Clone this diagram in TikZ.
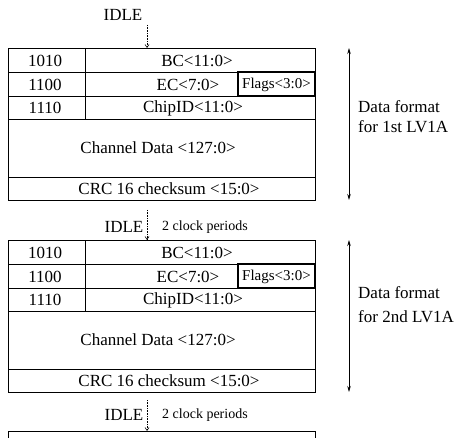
\documentclass[tikz,border=0pt]{standalone}
\usepackage{fontspec}
\setmainfont{Liberation Serif}
\usetikzlibrary{arrows.meta}
\begin{document}
\begin{tikzpicture}[x=1pt,y=-1pt,
  lbl/.style={font=\fontsize{17}{20}\selectfont, inner sep=0pt, anchor=center},
  small/.style={font=\fontsize{14}{16}\selectfont, inner sep=0pt},
  flagtxt/.style={font=\fontsize{15}{17}\selectfont, inner sep=0pt},
  frameline/.style={line width=0.8pt},
  boldline/.style={line width=1.3pt},
  idle/.style={densely dotted, line width=0.6pt, -{Straight Barb[length=3pt,width=4pt]}},
  span/.style={line width=0.7pt, {Stealth[length=6pt,width=3.5pt]}-{Stealth[length=6pt,width=3.5pt]}}]
\useasboundingbox (0,0) rectangle (457,438);

\foreach \t/\p in {48/a,240/b}{
  \draw[frameline] (8,\t) rectangle (315,\t+152);
  \draw[frameline] (8,\t+24) -- (315,\t+24);
  \draw[frameline] (8,\t+48) -- (315,\t+48);
  \draw[boldline] (8,\t+71.5) -- (315,\t+71.5);
  \draw[frameline] (8,\t+129) -- (315,\t+129);
  \draw[frameline] (85,\t) -- (85,\t+71.5);
  \draw[boldline] (238,\t+24) rectangle (315,\t+48);
  \node[lbl] (\p-h1) at (45,\t+12.5) {1010};
  \node[lbl] (\p-h2) at (45,\t+36.5) {1100};
  \node[lbl] (\p-h3) at (45,\t+60) {1110};
  \node[lbl] (\p-bc) at (197,\t+12.5) {BC<11:0>};
  \node[lbl] (\p-ec) at (188,\t+36.5) {EC<7:0>};
  \node[flagtxt] (\p-fl) at (276.5,\t+36.5) {Flags<3:0>};
  \node[lbl] (\p-id) at (193,\t+60) {ChipID<11:0>};
  \node[lbl] (\p-cd) at (158,\t+100) {Channel Data <127:0>};
  \node[lbl] (\p-crc) at (169,\t+141) {CRC 16 checksum <15:0>};
  \coordinate (\p-top) at (147,\t);
  \coordinate (\p-su) at (349,\t);
  \coordinate (\p-sd) at (349,\t+152);
  \draw[span] (\p-su) -- (\p-sd);
}

% partial third block
\coordinate (c-top) at (147,431);
\draw[frameline] (8,438) -- (8,431) -- (315,431) -- (315,438);

% IDLE markers
\node[lbl] (idle1) at (123,15) {IDLE};
\coordinate (d1) at (147,25);
\draw[idle] (d1) -- (a-top);

\node[lbl] (idle2) at (124,227) {IDLE};
\node[small, anchor=west] (clk2) at (162,227) {2 clock periods};
\coordinate (d2) at (147,210);
\draw[idle] (d2) -- (b-top);

\node[lbl] (idle3) at (124,415) {IDLE};
\node[small, anchor=west] (clk3) at (162,415) {2 clock periods};
\coordinate (d3) at (147,400);
\draw[idle] (d3) -- (c-top);

% side labels
\node[lbl, anchor=west] (f1a) at (358,107) {Data format};
\node[lbl, anchor=west] (f1b) at (358,127) {for 1st LV1A};
\node[lbl, anchor=west] (f2a) at (358,293) {Data format};
\node[lbl, anchor=west] (f2b) at (358,317) {for 2nd LV1A};
\end{tikzpicture}
\end{document}
